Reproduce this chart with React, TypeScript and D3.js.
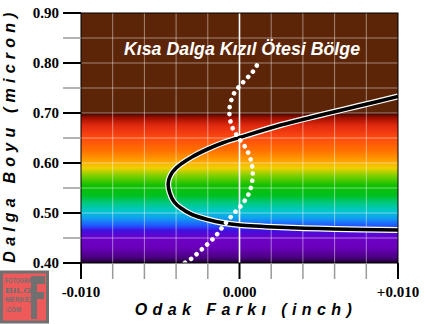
import React from "react";
import * as d3 from "d3";

const W = 425;
const H = 324;
const M = { left: 81, right: 398, top: 13, bottom: 263 };

const xDomain = [-0.01, 0.01];
const yDomain = [0.4, 0.9];
const xMajorTicks = [-0.01, 0, 0.01];
const xTickLabels = ["-0.010", "0.000", "+0.010"];
const yMajorTicks = [0.4, 0.5, 0.6, 0.7, 0.8, 0.9];
const yTickLabels = ["0.40", "0.50", "0.60", "0.70", "0.80", "0.90"];
const xMinorTicks = [-0.008, -0.006, -0.004, -0.002, 0.002, 0.004, 0.006, 0.008];
const yMinorTicks = [0.45, 0.55, 0.65, 0.75, 0.85];

// spectrum colour stops (wavelength in micron)
const spectrumWl = [0.4, 0.41, 0.43, 0.45, 0.465, 0.475, 0.49, 0.505, 0.52, 0.535, 0.555, 0.575, 0.59, 0.605, 0.625, 0.65, 0.675, 0.69, 0.7];
const spectrumColor = ["#1a0024", "#48007e", "#6a00b8", "#6c00c8", "#4010e0", "#2058ff", "#10a0f0", "#00c8c8", "#00c880", "#00c020", "#10c000", "#80d000", "#f0d000", "#ffa000", "#ff7000", "#ff4a10", "#e02a10", "#a01000", "#3a0800"];
const infraredRange = [0.7, 0.9];

// focal shift curve (ordered along the curve, from lower-right to upper-right)
const curveWl = [0.466, 0.468, 0.4714, 0.476, 0.48, 0.487, 0.497, 0.51, 0.522, 0.54, 0.559, 0.575, 0.59, 0.612, 0.628, 0.641, 0.651, 0.676, 0.695, 0.714, 0.733];
const curveFocus = [0.01, 0.006, 0.0026, 0.0, -0.001, -0.002, -0.003, -0.0037, -0.00412, -0.0044, -0.0045, -0.00436, -0.004, -0.003, -0.002, -0.001, 0.0, 0.0026, 0.005, 0.0075, 0.01];

// dotted curve
const dotWl = [0.4005, 0.409, 0.429, 0.451, 0.474, 0.498, 0.518, 0.541, 0.571, 0.599, 0.627, 0.651, 0.674, 0.701, 0.715, 0.739, 0.762, 0.782, 0.806];
const dotFocus = [-0.00344, -0.00302, -0.00232, -0.00159, -0.00102, -0.00039, 0.00018, 0.00062, 0.00083, 0.00077, 0.00045, -0.00008, -0.00049, -0.00064, -0.0006, -0.00035, 0.00024, 0.00083, 0.00129];

const logoLines = ["FOTOGRAF", "BILGI", "MERKEZI", ".COM"];

export default function App() {
  const x = d3.scaleLinear().domain(xDomain).range([M.left, M.right]);
  const y = d3.scaleLinear().domain(yDomain).range([M.bottom, M.top]);

  const curvePts: [number, number][] = curveWl.map((w, i) => [x(curveFocus[i]), y(w)]);
  const dotPts: [number, number][] = dotWl.map((w, i) => [x(dotFocus[i]), y(w)]);
  const line = d3.line().curve(d3.curveCatmullRom.alpha(0.5));
  const curveD = line(curvePts) || "";
  const dotD = line(dotPts) || "";

  const y0 = y(spectrumWl[0]);
  const y1 = y(spectrumWl[spectrumWl.length - 1]);

  const gridX = xMinorTicks;
  const gridY = [...yMinorTicks, ...yMajorTicks.filter((v) => v > 0.4 && v < 0.9)];

  const sans = "'Liberation Sans', Arial, sans-serif";
  const serif = "'Liberation Serif', 'Times New Roman', serif";

  return (
    <svg width={W} height={H} style={{ position: "absolute", left: 0, top: 0, background: "#fff" }}>
      <defs>
        <linearGradient id="spec" gradientUnits="userSpaceOnUse" x1={0} x2={0} y1={y0} y2={y1}>
          {spectrumWl.map((w, i) => (
            <stop key={i} offset={(w - spectrumWl[0]) / (spectrumWl[spectrumWl.length - 1] - spectrumWl[0])} stopColor={spectrumColor[i]} />
          ))}
        </linearGradient>
        <clipPath id="plotClip">
          <rect x={M.left} y={M.top} width={M.right - M.left} height={M.bottom - M.top} />
        </clipPath>
      </defs>

      {/* background */}
      <rect x={M.left} y={y(infraredRange[1])} width={M.right - M.left} height={y(infraredRange[0]) - y(infraredRange[1])} fill="#5c2508" />
      <rect x={M.left} y={y1} width={M.right - M.left} height={y0 - y1} fill="url(#spec)" />

      {/* grid */}
      {gridX.map((v) => (
        <line key={"gx" + v} x1={x(v)} x2={x(v)} y1={M.top} y2={M.bottom} stroke="#ffffff" strokeOpacity={0.45} strokeWidth={1} />
      ))}
      {gridY.map((v) => (
        <line key={"gy" + v} x1={M.left} x2={M.right} y1={y(v)} y2={y(v)} stroke="#ffffff" strokeOpacity={0.45} strokeWidth={1} />
      ))}
      <line x1={x(0)} x2={x(0)} y1={M.top} y2={M.bottom} stroke="#ffffff" strokeWidth={1.6} />

      {/* annotation */}
      <text x={242} y={55} textAnchor="middle" fill="#fff" fontFamily={sans} fontWeight="bold" fontStyle="italic" fontSize={17.8}>
        Kısa Dalga Kızıl Ötesi Bölge
      </text>

      {/* curves */}
      <g clipPath="url(#plotClip)">
        <path d={curveD} fill="none" stroke="#ffffff" strokeWidth={6} />
        <path d={curveD} fill="none" stroke="#000000" strokeWidth={3.6} />
        <path d={dotD} fill="none" stroke="#ffffff" strokeWidth={4.6} strokeLinecap="round" strokeDasharray="0.01 7.2" />
      </g>

      {/* frame */}
      <rect x={M.left} y={M.top} width={M.right - M.left} height={M.bottom - M.top} fill="none" stroke="#000" strokeWidth={1} />

      {/* y ticks */}
      {yMinorTicks.map((v) => (
        <line key={"ymt" + v} x1={63} x2={M.left} y1={y(v)} y2={y(v)} stroke="#9a9a9a" strokeWidth={1.5} />
      ))}
      {yMajorTicks.map((v, i) => (
        <g key={"yt" + v}>
          <line x1={63} x2={M.left} y1={y(v)} y2={y(v)} stroke="#000" strokeWidth={2} />
          <text x={59} y={y(v)} dy="0.35em" textAnchor="end" fontFamily={serif} fontWeight="bold" fontSize={15} fill="#000">
            {yTickLabels[i]}
          </text>
        </g>
      ))}

      {/* x ticks */}
      {xMinorTicks.map((v) => (
        <line key={"xmt" + v} x1={x(v)} x2={x(v)} y1={M.bottom} y2={279} stroke="#9a9a9a" strokeWidth={1.5} />
      ))}
      {xMajorTicks.map((v, i) => (
        <g key={"xt" + v}>
          <line x1={x(v)} x2={x(v)} y1={M.bottom} y2={279} stroke="#000" strokeWidth={2} />
          <text x={x(v)} y={297} textAnchor="middle" fontFamily={serif} fontWeight="bold" fontSize={15} fill="#000">
            {xTickLabels[i]}
          </text>
        </g>
      ))}

      {/* axis titles */}
      <text x={246} y={315} textAnchor="middle" fontFamily={sans} fontWeight="bold" fontStyle="italic" fontSize={16} letterSpacing={5.4} fill="#000">
        Odak Farkı (inch)
      </text>
      <text transform={`translate(15,${135}) rotate(-90)`} textAnchor="middle" fontFamily={sans} fontWeight="bold" fontStyle="italic" fontSize={16} letterSpacing={5.2} fill="#000">
        Dalga Boyu (micron)
      </text>

      {/* logo */}
      <g>
        <rect x={1.5} y={272} width={46} height={50} fill="#ee5a5a" stroke="#707070" strokeWidth={3} />
        <path d="M31 276 H45 V284 H37 V292 H44 V299 H37 V319 H31 Z" fill="#707070" />
        {logoLines.map((t, i) => (
          <text key={t} x={5} y={283 + i * 9.5} fontFamily={sans} fontSize={7.5} fill="#707070" fontWeight="bold" textLength={t.length > 4 ? 30 : 16} lengthAdjust="spacingAndGlyphs">
            {t}
          </text>
        ))}
      </g>
    </svg>
  );
}
